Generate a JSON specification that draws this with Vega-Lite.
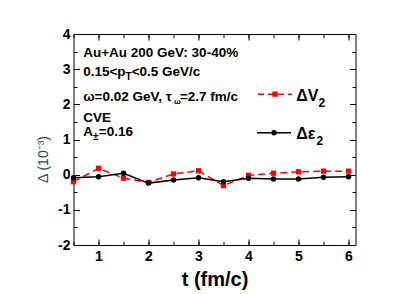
{
  "$schema": "https://vega.github.io/schema/vega-lite/v6.json",
  "width": 282,
  "height": 211,
  "autosize": "none",
  "padding": {"left": 73.5, "top": 34, "right": 59.5, "bottom": 49},
  "background": "white",
  "config": {
    "view": {"stroke": "#000", "strokeWidth": 1},
    "font": "Liberation Sans",
    "axis": {
      "domain": false,
      "grid": false,
      "labelFont": "Liberation Sans",
      "labelFontWeight": "bold",
      "labelFontSize": 14,
      "labelColor": "#000",
      "labelFlush": false,
      "labelOverlap": false,
      "labelBound": false,
      "tickColor": "#000",
      "tickWidth": 1,
      "titleFont": "Liberation Sans",
      "titleColor": "#000"
    }
  },
  "datasets": {
    "curves": [
      {"t": 0.5, "value": -0.20, "series": "dv2"},
      {"t": 1.0, "value": 0.18, "series": "dv2"},
      {"t": 1.5, "value": -0.10, "series": "dv2"},
      {"t": 2.0, "value": -0.22, "series": "dv2"},
      {"t": 2.5, "value": 0.02, "series": "dv2"},
      {"t": 3.0, "value": 0.11, "series": "dv2"},
      {"t": 3.5, "value": -0.31, "series": "dv2"},
      {"t": 4.0, "value": -0.02, "series": "dv2"},
      {"t": 4.5, "value": 0.04, "series": "dv2"},
      {"t": 5.0, "value": 0.08, "series": "dv2"},
      {"t": 5.5, "value": 0.10, "series": "dv2"},
      {"t": 6.0, "value": 0.10, "series": "dv2"},
      {"t": 0.5, "value": -0.085, "series": "de2"},
      {"t": 1.0, "value": -0.06, "series": "de2"},
      {"t": 1.5, "value": 0.04, "series": "de2"},
      {"t": 2.0, "value": -0.24, "series": "de2"},
      {"t": 2.5, "value": -0.15, "series": "de2"},
      {"t": 3.0, "value": -0.085, "series": "de2"},
      {"t": 3.5, "value": -0.20, "series": "de2"},
      {"t": 4.0, "value": -0.10, "series": "de2"},
      {"t": 4.5, "value": -0.12, "series": "de2"},
      {"t": 5.0, "value": -0.12, "series": "de2"},
      {"t": 5.5, "value": -0.075, "series": "de2"},
      {"t": 6.0, "value": -0.06, "series": "de2"}
    ],
    "legendline": [
      {"series": "dv2", "lx": 4.19, "ly": 2.29},
      {"series": "dv2", "lx": 4.87, "ly": 2.29},
      {"series": "de2", "lx": 4.17, "ly": 1.19},
      {"series": "de2", "lx": 4.85, "ly": 1.19}
    ],
    "legendmark": [
      {"series": "dv2", "lx": 4.53, "ly": 2.29},
      {"series": "de2", "lx": 4.51, "ly": 1.19}
    ],
    "notes": [
      {"nx": 0.694, "ny": 3.457, "text": "Au+Au 200 GeV: 30-40%"},
      {"nx": 0.694, "ny": 2.917, "text": "0.15<p"},
      {"nx": 1.664, "ny": 2.917, "text": "<0.5 GeV/c"},
      {"nx": 0.694, "ny": 2.207, "text": "ω=0.02 GeV, τ"},
      {"nx": 2.628, "ny": 2.207, "text": "=2.7 fm/c"},
      {"nx": 0.694, "ny": 1.625, "text": "CVE"},
      {"nx": 0.694, "ny": 1.213, "text": "A"},
      {"nx": 1.006, "ny": 1.213, "text": "=0.16"}
    ],
    "subs": [
      {"nx": 1.542, "ny": 2.917, "text": "T"},
      {"nx": 0.889, "ny": 1.213, "text": "±"}
    ],
    "tinysubs": [
      {"nx": 2.508, "ny": 2.207, "text": "ω"}
    ],
    "legendtext": [
      {"nx": 4.954, "ny": 2.25, "text": "ΔV"},
      {"nx": 4.954, "ny": 1.16, "text": "Δε"}
    ],
    "legendsub": [
      {"nx": 5.40, "ny": 2.25, "text": "2"},
      {"nx": 5.36, "ny": 1.16, "text": "2"}
    ]
  },
  "layer": [
    {
      "data": {"name": "curves"},
      "transform": [{"filter": "datum.series === 'dv2'"}],
      "mark": {"type": "line", "color": "#ff0000", "strokeWidth": 1.5, "strokeDash": [7, 4]},
      "encoding": {
        "x": {"field": "t", "type": "quantitative",
          "scale": {"domain": [0.5, 6.14], "nice": false, "zero": false},
          "axis": {"orient": "bottom", "values": [1, 2, 3, 4, 5, 6], "tickSize": -6, "labelPadding": 10,
            "labelExpr": "'' + datum.value",
            "title": "t (fm/c)", "titleFontSize": 20, "titleFontWeight": "bold", "titleY": 34, "titleBaseline": "middle"}},
        "y": {"field": "value", "type": "quantitative",
          "scale": {"domain": [-2, 4], "nice": false, "zero": false},
          "axis": {"orient": "left", "values": [-2, -1, 0, 1, 2, 3, 4], "tickSize": -6, "labelPadding": 9.5,
            "labelExpr": "'' + datum.value",
            "title": "Δ (10⁻³)", "titleFontSize": 14, "titleFontWeight": "normal", "titleColor": "#1f5050",
            "titleX": -30, "titleY": 125, "titleAngle": -90, "titleAlign": "center", "titleBaseline": "middle"}}
      }
    },
    {
      "data": {"name": "curves"},
      "transform": [{"filter": "datum.series === 'de2'"}],
      "mark": {"type": "line", "color": "#000000", "strokeWidth": 1.5},
      "encoding": {
        "x": {"field": "t", "type": "quantitative",
          "scale": {"domain": [0.5, 6.14], "nice": false, "zero": false},
          "axis": {"orient": "top", "values": [1, 2, 3, 4, 5, 6], "tickSize": -6, "labels": false, "title": null}},
        "y": {"field": "value", "type": "quantitative",
          "scale": {"domain": [-2, 4], "nice": false, "zero": false},
          "axis": {"orient": "right", "values": [-2, -1, 0, 1, 2, 3, 4], "tickSize": -6, "labels": false, "title": null}}
      }
    },
    {
      "data": {"name": "curves"},
      "transform": [{"filter": "datum.series === 'dv2'"}],
      "mark": {"type": "square", "color": "#ff0000", "filled": true, "size": 28, "opacity": 1},
      "encoding": {
        "x": {"field": "t", "type": "quantitative",
          "scale": {"domain": [0.5, 6.14], "nice": false, "zero": false},
          "axis": {"orient": "bottom", "values": [0.5, 1, 1.5, 2, 2.5, 3, 3.5, 4, 4.5, 5, 5.5, 6], "tickSize": -3.5, "labels": false, "title": null}},
        "y": {"field": "value", "type": "quantitative",
          "scale": {"domain": [-2, 4], "nice": false, "zero": false},
          "axis": {"orient": "left", "values": [-2, -1.5, -1, -0.5, 0, 0.5, 1, 1.5, 2, 2.5, 3, 3.5, 4], "tickSize": -3.5, "labels": false, "title": null}}
      }
    },
    {
      "data": {"name": "curves"},
      "transform": [{"filter": "datum.series === 'de2'"}],
      "mark": {"type": "circle", "color": "#000000", "size": 30, "opacity": 1},
      "encoding": {
        "x": {"field": "t", "type": "quantitative",
          "scale": {"domain": [0.5, 6.14], "nice": false, "zero": false},
          "axis": {"orient": "top", "values": [0.5, 1, 1.5, 2, 2.5, 3, 3.5, 4, 4.5, 5, 5.5, 6], "tickSize": -3.5, "labels": false, "title": null}},
        "y": {"field": "value", "type": "quantitative",
          "scale": {"domain": [-2, 4], "nice": false, "zero": false},
          "axis": {"orient": "right", "values": [-2, -1.5, -1, -0.5, 0, 0.5, 1, 1.5, 2, 2.5, 3, 3.5, 4], "tickSize": -3.5, "labels": false, "title": null}}
      }
    },
    {
      "data": {"name": "legendline"},
      "transform": [{"filter": "datum.series === 'dv2'"}],
      "mark": {"type": "line", "color": "#ff0000", "strokeWidth": 1.5, "strokeDash": [6, 4]},
      "encoding": {
        "x": {"field": "lx", "type": "quantitative", "scale": {"domain": [0.5, 6.14], "nice": false, "zero": false}, "axis": null},
        "y": {"field": "ly", "type": "quantitative", "scale": {"domain": [-2, 4], "nice": false, "zero": false}, "axis": null}
      }
    },
    {
      "data": {"name": "legendline"},
      "transform": [{"filter": "datum.series === 'de2'"}],
      "mark": {"type": "line", "color": "#000000", "strokeWidth": 1.5},
      "encoding": {
        "x": {"field": "lx", "type": "quantitative", "scale": {"domain": [0.5, 6.14], "nice": false, "zero": false}, "axis": null},
        "y": {"field": "ly", "type": "quantitative", "scale": {"domain": [-2, 4], "nice": false, "zero": false}, "axis": null}
      }
    },
    {
      "data": {"name": "legendmark"},
      "transform": [{"filter": "datum.series === 'dv2'"}],
      "mark": {"type": "square", "color": "#ff0000", "filled": true, "size": 28, "opacity": 1},
      "encoding": {
        "x": {"field": "lx", "type": "quantitative", "scale": {"domain": [0.5, 6.14], "nice": false, "zero": false}, "axis": null},
        "y": {"field": "ly", "type": "quantitative", "scale": {"domain": [-2, 4], "nice": false, "zero": false}, "axis": null}
      }
    },
    {
      "data": {"name": "legendmark"},
      "transform": [{"filter": "datum.series === 'de2'"}],
      "mark": {"type": "circle", "color": "#000000", "size": 30, "opacity": 1},
      "encoding": {
        "x": {"field": "lx", "type": "quantitative", "scale": {"domain": [0.5, 6.14], "nice": false, "zero": false}, "axis": null},
        "y": {"field": "ly", "type": "quantitative", "scale": {"domain": [-2, 4], "nice": false, "zero": false}, "axis": null}
      }
    },
    {
      "data": {"name": "notes"},
      "mark": {"type": "text", "align": "left", "baseline": "middle", "font": "Liberation Sans", "fontWeight": "bold", "fontSize": 13.5, "color": "#000"},
      "encoding": {
        "x": {"field": "nx", "type": "quantitative", "scale": {"domain": [0.5, 6.14], "nice": false, "zero": false}, "axis": null},
        "y": {"field": "ny", "type": "quantitative", "scale": {"domain": [-2, 4], "nice": false, "zero": false}, "axis": null},
        "text": {"field": "text"}
      }
    },
    {
      "data": {"name": "subs"},
      "mark": {"type": "text", "align": "left", "baseline": "middle", "dy": 5, "font": "Liberation Sans", "fontWeight": "bold", "fontSize": 10, "color": "#000"},
      "encoding": {
        "x": {"field": "nx", "type": "quantitative", "scale": {"domain": [0.5, 6.14], "nice": false, "zero": false}, "axis": null},
        "y": {"field": "ny", "type": "quantitative", "scale": {"domain": [-2, 4], "nice": false, "zero": false}, "axis": null},
        "text": {"field": "text"}
      }
    },
    {
      "data": {"name": "tinysubs"},
      "mark": {"type": "text", "align": "left", "baseline": "middle", "dy": 5, "font": "Liberation Sans", "fontWeight": "bold", "fontSize": 8, "color": "#000"},
      "encoding": {
        "x": {"field": "nx", "type": "quantitative", "scale": {"domain": [0.5, 6.14], "nice": false, "zero": false}, "axis": null},
        "y": {"field": "ny", "type": "quantitative", "scale": {"domain": [-2, 4], "nice": false, "zero": false}, "axis": null},
        "text": {"field": "text"}
      }
    },
    {
      "data": {"name": "legendtext"},
      "mark": {"type": "text", "align": "left", "baseline": "middle", "font": "Liberation Sans", "fontWeight": "bold", "fontSize": 16, "color": "#000"},
      "encoding": {
        "x": {"field": "nx", "type": "quantitative", "scale": {"domain": [0.5, 6.14], "nice": false, "zero": false}, "axis": null},
        "y": {"field": "ny", "type": "quantitative", "scale": {"domain": [-2, 4], "nice": false, "zero": false}, "axis": null},
        "text": {"field": "text"}
      }
    },
    {
      "data": {"name": "legendsub"},
      "mark": {"type": "text", "align": "left", "baseline": "middle", "dy": 7, "font": "Liberation Sans", "fontWeight": "bold", "fontSize": 12, "color": "#000"},
      "encoding": {
        "x": {"field": "nx", "type": "quantitative", "scale": {"domain": [0.5, 6.14], "nice": false, "zero": false}, "axis": null},
        "y": {"field": "ny", "type": "quantitative", "scale": {"domain": [-2, 4], "nice": false, "zero": false}, "axis": null},
        "text": {"field": "text"}
      }
    }
  ],
  "resolve": {"axis": {"x": "independent", "y": "independent"}}
}
